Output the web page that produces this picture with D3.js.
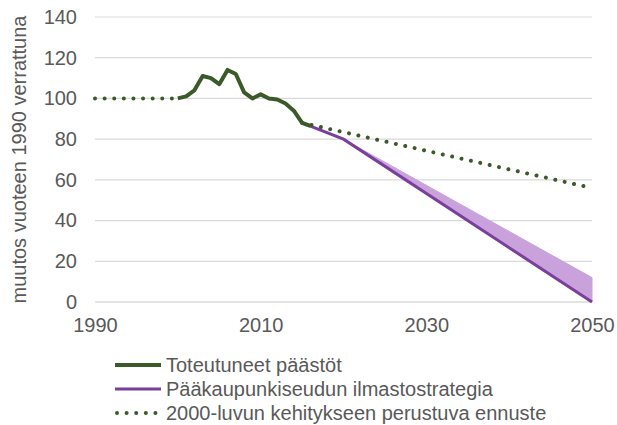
<!DOCTYPE html>
<html>
<head>
<meta charset="utf-8">
<script src="https://cdn.jsdelivr.net/npm/d3@7"></script>
<style>
  body { margin: 0; background: #fff; }
  text { font-family: "Liberation Sans", Arial, sans-serif; }
</style>
</head>
<body>
<svg id="chart" width="617" height="425"></svg>
<script>
// toteutuneet päästöt (actual emissions, index 1990 = 100)
var actualYears  = [2000, 2001, 2002, 2003, 2004, 2005, 2006, 2007, 2008, 2009, 2010, 2011, 2012, 2013, 2014, 2015, 2016];
var actualValues = [100, 101, 104, 111, 110, 107, 114, 112, 103, 100, 102, 100, 99.5, 97.5, 94, 88, 86.5];

// pääkaupunkiseudun ilmastostrategia (band: low edge = line, high edge)
var strategyYears = [2015, 2020, 2050];
var strategyLow   = [88, 80, 0];
var strategyHigh  = [88, 80, 12];

// 2000-luvun kehitykseen perustuva ennuste (null = gap)
var forecastYears  = [1990, 2000, 2008, 2015, 2050];
var forecastValues = [100, 100, null, 88, 56];

var xTicks = [1990, 2010, 2030, 2050];
var yTicks = [0, 20, 40, 60, 80, 100, 120, 140];

var legendLabels = ["Toteutuneet päästöt", "Pääkaupunkiseudun ilmastostrategia", "2000-luvun kehitykseen perustuva ennuste"];

var green = "#3b5a2a";
var purple = "#7a3f9d";
var purpleFill = "#c9a2dc";
var gridColor = "#d9d9d9";
var textColor = "#595959";
var fontSize = "20px";

var svg = d3.select("#chart");

var x = d3.scaleLinear().domain([1990, 2050]).range([95, 592]);
var y = d3.scaleLinear().domain([0, 140]).range([302, 17]);

// grid lines
svg.append("g")
  .attr("class", "grid")
  .selectAll("line")
  .data(yTicks)
  .enter().append("line")
  .attr("x1", x(1990))
  .attr("x2", x(2050))
  .attr("y1", function(d) { return y(d); })
  .attr("y2", function(d) { return y(d); })
  .attr("stroke", function(d) { return d === 0 ? "#c8c8c8" : gridColor; })
  .attr("stroke-width", 1.2);

// y axis labels
var yAxis = d3.axisLeft(y).tickValues(yTicks).tickSize(0).tickPadding(0);
svg.append("g")
  .attr("transform", "translate(77,0)")
  .call(yAxis)
  .call(function(g) { g.select(".domain").remove(); })
  .selectAll("text")
  .attr("fill", textColor)
  .style("font-size", fontSize)
  .style("font-family", "'Liberation Sans', Arial, sans-serif");

// x axis labels
var xAxis = d3.axisBottom(x).tickValues(xTicks).tickFormat(d3.format("d")).tickSize(0).tickPadding(0);
svg.append("g")
  .attr("transform", "translate(0,318)")
  .call(xAxis)
  .call(function(g) { g.select(".domain").remove(); })
  .selectAll("text")
  .attr("fill", textColor)
  .style("font-size", fontSize)
  .style("font-family", "'Liberation Sans', Arial, sans-serif");

// y axis title
svg.append("text")
  .attr("transform", "translate(26," + ((y(0) + y(140)) / 2) + ") rotate(-90)")
  .attr("text-anchor", "middle")
  .attr("fill", textColor)
  .style("font-size", fontSize)
  .text("muutos vuoteen 1990 verrattuna");

// strategy band
var band = d3.area()
  .x(function(d, i) { return x(strategyYears[i]); })
  .y0(function(d, i) { return y(strategyLow[i]); })
  .y1(function(d, i) { return y(strategyHigh[i]); });

svg.append("path")
  .datum(strategyYears)
  .attr("d", band)
  .attr("fill", purpleFill)
  .attr("stroke", purpleFill)
  .attr("stroke-width", 1);

var strategyLine = d3.line()
  .x(function(d, i) { return x(strategyYears[i]); })
  .y(function(d, i) { return y(strategyLow[i]); });

svg.append("path")
  .datum(strategyYears)
  .attr("d", strategyLine)
  .attr("fill", "none")
  .attr("stroke", purple)
  .attr("stroke-width", 3);

// actual emissions
var actualLine = d3.line()
  .x(function(d, i) { return x(actualYears[i]); })
  .y(function(d, i) { return y(actualValues[i]); });

svg.append("path")
  .datum(actualYears)
  .attr("d", actualLine)
  .attr("fill", "none")
  .attr("stroke", green)
  .attr("stroke-width", 4)
  .attr("stroke-linejoin", "round");

// forecast, dotted
var forecastLine = d3.line()
  .defined(function(d, i) { return forecastValues[i] !== null; })
  .x(function(d, i) { return x(forecastYears[i]); })
  .y(function(d, i) { return y(forecastValues[i]); });

svg.append("path")
  .datum(forecastYears)
  .attr("d", forecastLine)
  .attr("fill", "none")
  .attr("stroke", green)
  .attr("stroke-width", 4)
  .attr("stroke-linecap", "round")
  .attr("stroke-dasharray", "0.01 9.6");

// legend
var legend = svg.append("g").attr("class", "legend");
var legendStyles = [
  { color: green, width: 4, dash: null },
  { color: purple, width: 3, dash: null },
  { color: green, width: 4, dash: "0.01 9.6" }
];

legendLabels.forEach(function(label, i) {
  var ly = 365 + i * 24;
  var s = legendStyles[i];
  legend.append("line")
    .attr("x1", s.dash ? 117 : 115)
    .attr("x2", 161)
    .attr("y1", ly)
    .attr("y2", ly)
    .attr("stroke", s.color)
    .attr("stroke-width", s.width)
    .attr("stroke-linecap", s.dash ? "round" : "butt")
    .attr("stroke-dasharray", s.dash);
  legend.append("text")
    .attr("x", 166)
    .attr("y", ly + 7)
    .attr("fill", textColor)
    .style("font-size", fontSize)
    .text(label);
});
</script>
</body>
</html>
